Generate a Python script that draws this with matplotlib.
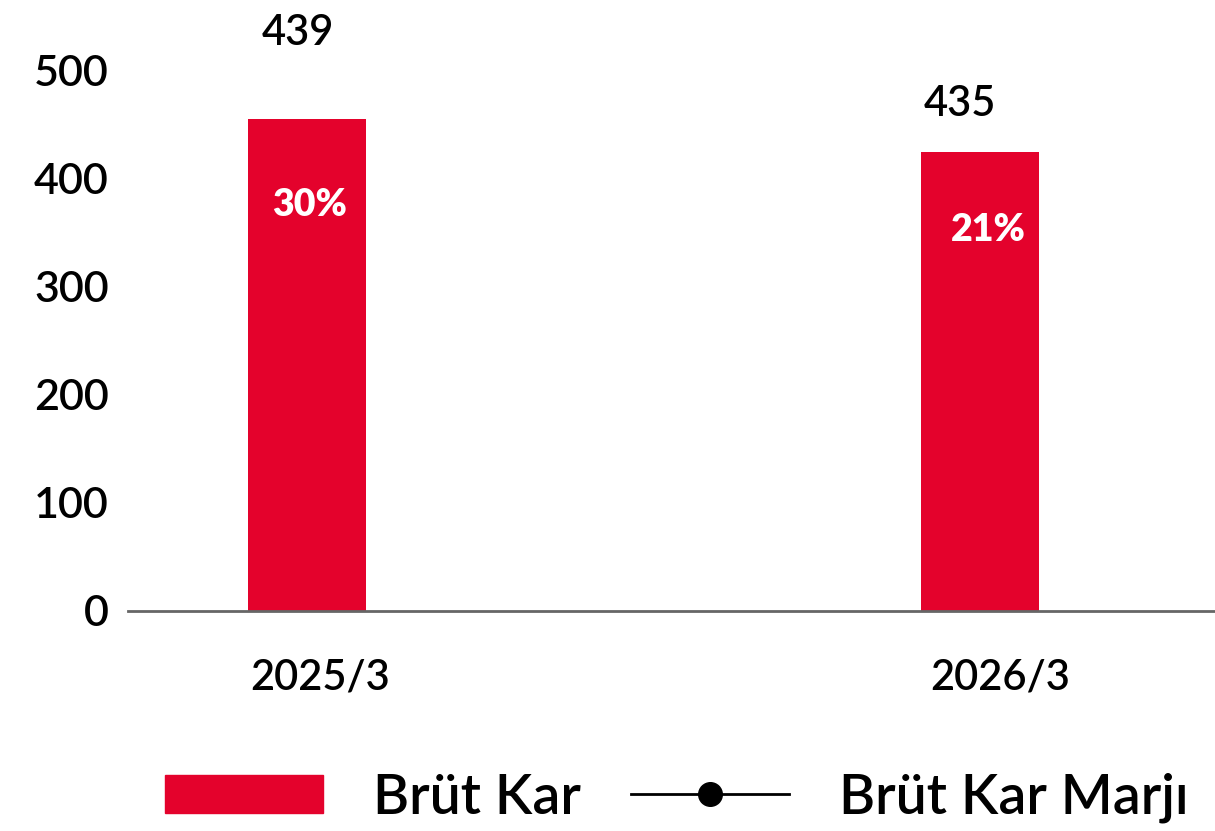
import matplotlib
matplotlib.use('Agg')
import matplotlib.pyplot as plt
from matplotlib.patches import Patch
from matplotlib.lines import Line2D

plt.rcParams['font.family'] = ['Lato', 'DejaVu Sans']

periods = ['2025/3', '2026/3']
brut_kar = [455, 424]            # bar heights as drawn
brut_kar_labels = ['439', '435']
marj_labels = ['30%', '21%']

red = '#e4022c'

fig = plt.figure(figsize=(12.15, 8.31), dpi=100)
ax = fig.add_axes([128 / 1215, 220 / 831, 1 - 128 / 1215, (611 - 70) / 831])

x = list(range(len(periods)))
ax.bar(x, brut_kar, width=0.175, color=red, zorder=2)

# value labels (placed where the original puts them)
val_pos = [(-0.013, 534), (0.970, 469)]
for (px, py), lab in zip(val_pos, brut_kar_labels):
    ax.text(px, py, lab, ha='center', va='center', fontsize=30,
            fontweight='semibold', color='black', clip_on=False)

marj_pos = [(0.004, 375), (1.012, 352)]
for (px, py), lab in zip(marj_pos, marj_labels):
    ax.text(px, py, lab, ha='center', va='center', fontsize=27,
            fontweight='heavy', color='white', zorder=3)

ax.set_xlim(-0.266, 1.349)
ax.set_ylim(0, 500)
ax.set_yticks([0, 100, 200, 300, 400, 500])
ax.set_yticklabels([0, 100, 200, 300, 400, 500], fontweight='semibold')
ax.tick_params(axis='y', length=0, pad=14, labelsize=31)
ax.set_xticks([0.02, 1.03])
ax.set_xticklabels(periods, fontweight='semibold')
ax.tick_params(axis='x', length=0, pad=34, labelsize=30)

for s in ['top', 'right', 'left']:
    ax.spines[s].set_visible(False)
ax.spines['bottom'].set_color('#666666')
ax.spines['bottom'].set_linewidth(2)

handles = [Patch(color=red, label='Brüt Kar'),
           Line2D([0], [0], color='black', lw=2, marker='o', markersize=17,
                  label='Brüt Kar Marjı')]
fig.legend(handles=handles, loc='center', bbox_to_anchor=(0.557, 0.04),
           ncol=2, frameon=False, fontsize=40,
           prop={'size': 40, 'weight': 'semibold'}, handlelength=2.85,
           handleheight=0.68, handletextpad=0.9, columnspacing=0.9)

fig.savefig('out.png', dpi=100)
